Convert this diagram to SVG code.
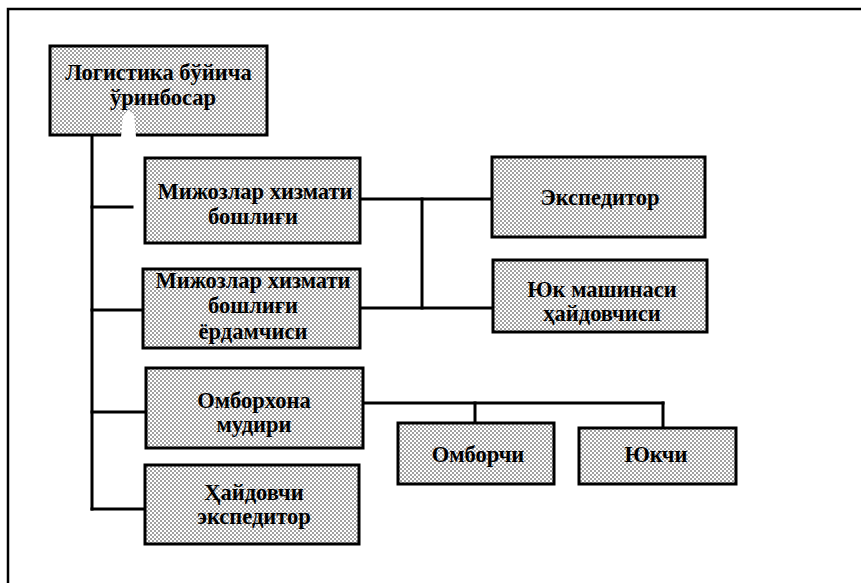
<svg xmlns="http://www.w3.org/2000/svg" width="861" height="583" viewBox="0 0 861 583">
  <defs>
    <!-- halftone dot fill used by every box -->
    <pattern id="dots" width="4" height="4" patternUnits="userSpaceOnUse">
      <rect width="4" height="4" fill="#ffffff"/>
      <circle cx="1" cy="1" r="0.8" fill="#2a2a2a"/>
      <circle cx="3" cy="3" r="0.8" fill="#2a2a2a"/>
    </pattern>
  </defs>
  <style>
    .box { fill: url(#dots); stroke: #000; stroke-width: 3; }
    .lbl { font-family: "Liberation Serif", "Times New Roman", serif; font-weight: bold; font-size: 22.5px; fill: #000; text-anchor: middle; }
    .ln { stroke: #000; stroke-width: 3; fill: none; stroke-linecap: square; }
    .frame { stroke: #000; stroke-width: 2.5; fill: none; }
  </style>

  <rect width="861" height="583" fill="#ffffff"/>

  <!-- outer frame: top and left edges -->
  <path class="frame" d="M 8 583 V 9 H 861"/>

  <!-- connectors -->
  <g id="connectors">
    <path class="ln" d="M 92 135 V 509"/>
    <path class="ln" d="M 92 207 H 132"/>
    <path class="ln" d="M 92 310 H 143"/>
    <path class="ln" d="M 92 412 H 146"/>
    <path class="ln" d="M 92 509 H 145"/>
    <path class="ln" d="M 360 199 H 492"/>
    <path class="ln" d="M 360 308 H 493"/>
    <path class="ln" d="M 422 199 V 308"/>
    <path class="ln" d="M 363 403 H 663"/>
    <path class="ln" d="M 475 403 V 423"/>
    <path class="ln" d="M 663 403 V 428"/>
  </g>

  <g id="deputy">
    <rect class="box" x="50" y="46" width="217" height="89"/>
    <text class="lbl" x="158.5" y="80">Логистика бўйича</text>
    <text class="lbl" x="163" y="105">ўринбосар</text>
    <polygon points="121,137 123,116 128,110 134,114 136,137" fill="#ffffff"/>
  </g>

  <g id="client-head">
    <rect class="box" x="145" y="158" width="215" height="85"/>
    <text class="lbl" x="255" y="199">Мижозлар хизмати</text>
    <text class="lbl" x="253" y="224">бошлиғи</text>
  </g>

  <g id="client-assistant">
    <rect class="box" x="143" y="269" width="217" height="79"/>
    <text class="lbl" x="253" y="288">Мижозлар хизмати</text>
    <text class="lbl" x="253" y="313">бошлиғи</text>
    <text class="lbl" x="253" y="339">ёрдамчиси</text>
  </g>

  <g id="forwarder">
    <rect class="box" x="492" y="157" width="213" height="80"/>
    <text class="lbl" x="600" y="205">Экспедитор</text>
  </g>

  <g id="truck-driver">
    <rect class="box" x="493" y="260" width="214" height="72"/>
    <text class="lbl" x="602" y="297">Юк машинаси</text>
    <text class="lbl" x="602" y="321">ҳайдовчиси</text>
  </g>

  <g id="warehouse-head">
    <rect class="box" x="146" y="368" width="217" height="80"/>
    <text class="lbl" x="254" y="408">Омборхона</text>
    <text class="lbl" x="254" y="432">мудири</text>
  </g>

  <g id="driver-forwarder">
    <rect class="box" x="145" y="465" width="214" height="79"/>
    <text class="lbl" x="254" y="500">Ҳайдовчи</text>
    <text class="lbl" x="254" y="524">экспедитор</text>
  </g>

  <g id="storekeeper">
    <rect class="box" x="398" y="423" width="156" height="61"/>
    <text class="lbl" x="478" y="462">Омборчи</text>
  </g>

  <g id="loader">
    <rect class="box" x="579" y="428" width="157" height="56"/>
    <text class="lbl" x="656" y="462">Юкчи</text>
  </g>
</svg>
